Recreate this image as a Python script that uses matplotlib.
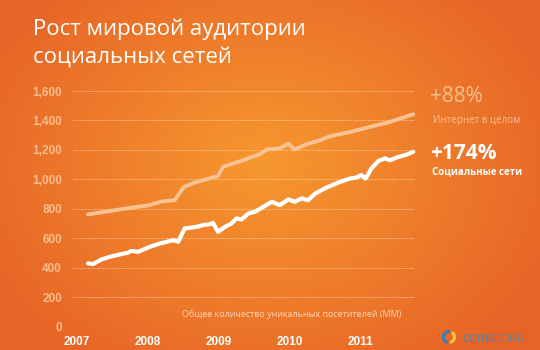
import numpy as np
import matplotlib.pyplot as plt
from matplotlib.patches import Arc

# Values (decimal year, millions of unique visitors)
internet_x = [2007.16, 2007.70, 2008.03, 2008.10, 2008.22, 2008.38, 2008.51, 2008.69,
              2008.99, 2009.06, 2009.30, 2009.58, 2009.68, 2009.86, 2009.98, 2010.07,
              2010.24, 2010.43, 2010.57, 2010.85, 2011.13, 2011.41, 2011.60, 2011.74]
internet_y = [762, 803, 825, 837, 852, 859, 949, 983,
              1022, 1085, 1123, 1171, 1203, 1210, 1243, 1203,
              1239, 1266, 1293, 1322, 1356, 1390, 1420, 1442]

social_x = [2007.16, 2007.23, 2007.35, 2007.47, 2007.61, 2007.72, 2007.77, 2007.86,
            2008.03, 2008.17, 2008.27, 2008.36, 2008.43, 2008.52, 2008.69, 2008.78,
            2008.88, 2008.92, 2008.99, 2009.09, 2009.18, 2009.25, 2009.32, 2009.42,
            2009.51, 2009.63, 2009.75, 2009.86, 2009.98, 2010.07, 2010.17, 2010.26,
            2010.36, 2010.52, 2010.71, 2010.85, 2010.94, 2011.01, 2011.07, 2011.15,
            2011.25, 2011.34, 2011.41, 2011.51, 2011.65, 2011.74]
social_y = [430, 425, 457, 475, 491, 502, 515, 508,
            542, 565, 576, 588, 576, 667, 678, 690,
            696, 705, 644, 678, 701, 735, 728, 769,
            780, 814, 848, 825, 864, 848, 871, 859,
            904, 945, 983, 1006, 1013, 1029, 1006, 1074,
            1125, 1142, 1130, 1149, 1169, 1187]

years = [2007, 2008, 2009, 2010, 2011]
y_ticks = [0, 200, 400, 600, 800, 1000, 1200, 1400, 1600]

fig = plt.figure(figsize=(5.4, 3.5), dpi=100)

# orange radial background
bg = fig.add_axes([0, 0, 1, 1])
xx, yy = np.meshgrid(np.linspace(0, 540, 270), np.linspace(0, 350, 175))
r = np.sqrt(((xx - 265) / 320) ** 2 + ((yy - 165) / 250) ** 2)
r = np.clip(r, 0, 1)[..., None]
c_in = np.array([0xF6, 0x98, 0x2F]) / 255
c_out = np.array([0xE7, 0x63, 0x27]) / 255
img = c_in * (1 - r) + c_out * r
bg.imshow(img, extent=[0, 540, 350, 0], aspect='auto')
bg.set_xlim(0, 540)
bg.set_ylim(350, 0)
bg.axis('off')

ax = fig.add_axes([73 / 540, 1 - 326.7 / 350, (415 - 73) / 540, (326.7 - 91) / 350])
ax.patch.set_alpha(0)
ax.set_xlim(2007 + (73 - 76.7) / 71, 2007 + (415 - 76.7) / 71)
ax.set_ylim(0, 1600)

ax.plot(internet_x, internet_y, color='#F8C292', lw=2.8, solid_capstyle='round',
        solid_joinstyle='round', clip_on=False)
ax.plot(social_x, social_y, color='white', lw=3.0, solid_capstyle='round',
        solid_joinstyle='round', clip_on=False)

for s in ax.spines.values():
    s.set_visible(False)
ax.set_yticks(y_ticks)
ax.set_yticklabels([f'{v:,}' for v in y_ticks])
ax.set_xticks(years)
ax.set_xticklabels([str(y) for y in years])
ax.tick_params(length=0)
ax.tick_params(axis='y', pad=8, labelcolor='#F9BC8A', labelsize=8.5)
ax.tick_params(axis='x', pad=7, labelcolor='white', labelsize=8.5)
for lab in ax.get_yticklabels():
    lab.set_fontweight('bold')
    lab.set_family('Liberation Sans')
for lab in ax.get_xticklabels():
    lab.set_fontweight('bold')
    lab.set_family(['Liberation Sans Narrow', 'Liberation Sans'])
ax.grid(axis='y', color='#FBD3B0', linestyle=(0, (1.5, 1.5)), lw=0.7, alpha=0.8)
ax.grid(axis='x', visible=False)

# title
fig.text(33 / 540, 1 - 35 / 350, 'Рост мировой аудитории',
         color='white', fontsize=16, family='Open Sans', va='baseline')
fig.text(33 / 540, 1 - 63 / 350, 'социальных сетей',
         color='white', fontsize=16, family='Open Sans', va='baseline')

# right side labels
fig.text(430 / 540, 1 - 97 / 350, '+88%', color='#F8BE8C', fontsize=15,
         family='Open Sans', va='center')
fig.text(433 / 540, 1 - 120 / 350, 'Интернет в целом', color='#F8BE8C', fontsize=7,
         family='Open Sans', va='center')
fig.text(430 / 540, 1 - 154 / 350, '+174%', color='white', fontsize=15,
         family='Open Sans', fontweight='bold', va='center')
fig.text(432 / 540, 1 - 172 / 350, 'Социальные сети', color='white', fontsize=7,
         family='Open Sans', fontweight='bold', va='center')

# axis caption
fig.text(292 / 540, 1 - 314 / 350, 'Общее количество уникальных посетителей (ММ)',
         color='#FCD6B6', fontsize=6.5, family='Open Sans', ha='center', va='center')

# comScore logo
bg.add_patch(Arc((449, 337), 11, 11, theta1=100, theta2=280, color='#2F7FC1', lw=2.2))
bg.add_patch(Arc((449, 337), 11, 11, theta1=-60, theta2=80, color='#F6C23A', lw=2.2))
bg.text(462, 338, 'com', color='#6F7C8E', fontsize=10, family='Liberation Sans',
        va='center', ha='left')
bg.text(485, 338.5, 'SCORE.', color='#6F7C8E', fontsize=8, family='Liberation Sans',
        va='center', ha='left')

fig.savefig('out.png', dpi=100)
